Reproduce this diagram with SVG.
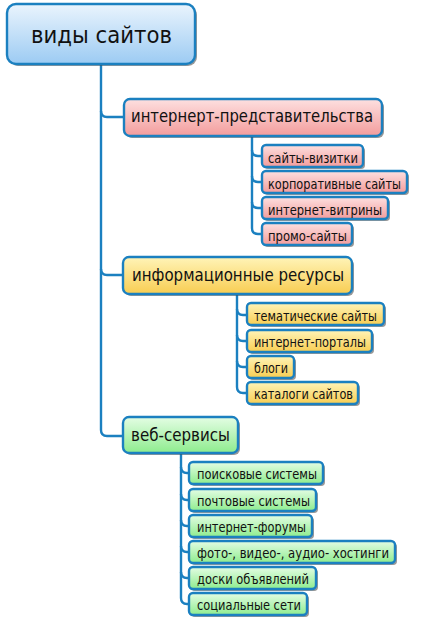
<svg xmlns="http://www.w3.org/2000/svg" width="445" height="619" viewBox="0 0 445 619">
<defs>
<linearGradient id="gBlue" x1="0" y1="0" x2="0" y2="1"><stop offset="0" stop-color="#eaf4fd"/><stop offset="1" stop-color="#9ccbf3"/></linearGradient>
<linearGradient id="gPink" x1="0" y1="0" x2="0" y2="1"><stop offset="0" stop-color="#fde0e0"/><stop offset="1" stop-color="#f39c9c"/></linearGradient>
<linearGradient id="gYellow" x1="0" y1="0" x2="0" y2="1"><stop offset="0" stop-color="#fff4b8"/><stop offset="1" stop-color="#f8cd52"/></linearGradient>
<linearGradient id="gGreen" x1="0" y1="0" x2="0" y2="1"><stop offset="0" stop-color="#e4fde4"/><stop offset="1" stop-color="#8eec8e"/></linearGradient>
</defs>
<style>
.sh{fill:#444;opacity:0.55}
.b{stroke:#1b80c0;stroke-width:2.4}
.root{fill:url(#gBlue)}
.pink{fill:url(#gPink)}
.yel{fill:url(#gYellow)}
.grn{fill:url(#gGreen)}
text{font-family:"DejaVu Sans Condensed","DejaVu Sans","Verdana",sans-serif;font-stretch:condensed;fill:#111}
.t1{font-size:23px}
.t2{font-size:18px}
.t3{font-size:13.5px}
.c{fill:none;stroke:#1b80c0;stroke-width:2.4}
</style>
<rect width="445" height="619" fill="#ffffff"/>
<g id="connectors">
<path class="c" d="M101,64 V430 Q101,436 107,436 H123"/>
<path class="c" d="M101,111 Q101,117 107,117 H124"/>
<path class="c" d="M101,269 Q101,275 107,275 H123"/>
<path class="c" d="M252,136 V228 Q252,234 258,234 H262"/>
<path class="c" d="M252,150 Q252,156 258,156 H262"/>
<path class="c" d="M252,176 Q252,182 258,182 H262"/>
<path class="c" d="M252,202 Q252,208 258,208 H262"/>
<path class="c" d="M237,294 V387 Q237,393 243,393 H247"/>
<path class="c" d="M237,309 Q237,315 243,315 H247"/>
<path class="c" d="M237,335 Q237,341 243,341 H247"/>
<path class="c" d="M237,361 Q237,367 243,367 H247"/>
<path class="c" d="M181,453 V598 Q181,604 187,604 H189"/>
<path class="c" d="M181,467 Q181,473 187,473 H189"/>
<path class="c" d="M181,494 Q181,500 187,500 H189"/>
<path class="c" d="M181,520 Q181,526 187,526 H189"/>
<path class="c" d="M181,546 Q181,552 187,552 H189"/>
<path class="c" d="M181,572 Q181,578 187,578 H189"/>
</g>
<g id="root">
<rect class="sh" x="9" y="6" width="188" height="60" rx="9"/>
<rect class="root b" x="7" y="4" width="188" height="60" rx="9"/>
<text class="t1" x="31" y="43" textLength="141" lengthAdjust="spacingAndGlyphs">виды сайтов</text>
</g>
<g id="n1">
<rect class="sh" x="126" y="101" width="258" height="37" rx="6"/>
<rect class="pink b" x="124" y="99" width="258" height="37" rx="6"/>
<text class="t2" x="131" y="122" textLength="242" lengthAdjust="spacingAndGlyphs">интернерт-представительства</text>
</g>
<g id="n1a"><rect class="sh" x="264" y="147" width="101" height="22" rx="4"/><rect class="pink b" x="262" y="145" width="101" height="22" rx="4"/><text class="t3" x="268" y="162.5" textLength="90" lengthAdjust="spacingAndGlyphs">сайты-визитки</text></g>
<g id="n1b"><rect class="sh" x="264" y="173" width="145" height="22" rx="4"/><rect class="pink b" x="262" y="171" width="145" height="22" rx="4"/><text class="t3" x="268" y="188.5" textLength="133" lengthAdjust="spacingAndGlyphs">корпоративные сайты</text></g>
<g id="n1c"><rect class="sh" x="264" y="199" width="126" height="22" rx="4"/><rect class="pink b" x="262" y="197" width="126" height="22" rx="4"/><text class="t3" x="268" y="214.5" textLength="114" lengthAdjust="spacingAndGlyphs">интернет-витрины</text></g>
<g id="n1d"><rect class="sh" x="264" y="225" width="90" height="22" rx="4"/><rect class="pink b" x="262" y="223" width="90" height="22" rx="4"/><text class="t3" x="268" y="240.5" textLength="79" lengthAdjust="spacingAndGlyphs">промо-сайты</text></g>
<g id="n2">
<rect class="sh" x="125" y="259" width="229" height="37" rx="6"/>
<rect class="yel b" x="123" y="257" width="229" height="37" rx="6"/>
<text class="t2" x="132" y="280.5" textLength="212" lengthAdjust="spacingAndGlyphs">информационные ресурсы</text>
</g>
<g id="n2a"><rect class="sh" x="249" y="305" width="137" height="22" rx="4"/><rect class="yel b" x="247" y="303" width="137" height="22" rx="4"/><text class="t3" x="254" y="320.5" textLength="123" lengthAdjust="spacingAndGlyphs">тематические сайты</text></g>
<g id="n2b"><rect class="sh" x="249" y="332" width="125" height="22" rx="4"/><rect class="yel b" x="247" y="330" width="125" height="22" rx="4"/><text class="t3" x="254" y="347" textLength="112" lengthAdjust="spacingAndGlyphs">интернет-порталы</text></g>
<g id="n2c"><rect class="sh" x="249" y="358" width="47" height="22" rx="4"/><rect class="yel b" x="247" y="356" width="47" height="22" rx="4"/><text class="t3" x="254" y="373" textLength="34" lengthAdjust="spacingAndGlyphs">блоги</text></g>
<g id="n2d"><rect class="sh" x="249" y="384" width="111" height="22" rx="4"/><rect class="yel b" x="247" y="382" width="111" height="22" rx="4"/><text class="t3" x="254" y="399" textLength="99" lengthAdjust="spacingAndGlyphs">каталоги сайтов</text></g>
<g id="n3">
<rect class="sh" x="125" y="419" width="115" height="36" rx="6"/>
<rect class="grn b" x="123" y="417" width="115" height="36" rx="6"/>
<text class="t2" x="131" y="440.5" textLength="99" lengthAdjust="spacingAndGlyphs">веб-сервисы</text>
</g>
<g id="n3a"><rect class="sh" x="191" y="464" width="134" height="22" rx="4"/><rect class="grn b" x="189" y="462" width="134" height="22" rx="4"/><text class="t3" x="197" y="479" textLength="120" lengthAdjust="spacingAndGlyphs">поисковые системы</text></g>
<g id="n3b"><rect class="sh" x="191" y="491" width="127" height="22" rx="4"/><rect class="grn b" x="189" y="489" width="127" height="22" rx="4"/><text class="t3" x="197" y="505.5" textLength="113" lengthAdjust="spacingAndGlyphs">почтовые системы</text></g>
<g id="n3c"><rect class="sh" x="191" y="517" width="123" height="22" rx="4"/><rect class="grn b" x="189" y="515" width="123" height="22" rx="4"/><text class="t3" x="197" y="531.5" textLength="109" lengthAdjust="spacingAndGlyphs">интернет-форумы</text></g>
<g id="n3d"><rect class="sh" x="191" y="543" width="206" height="22" rx="4"/><rect class="grn b" x="189" y="541" width="206" height="22" rx="4"/><text class="t3" x="197" y="557.5" textLength="192" lengthAdjust="spacingAndGlyphs">фото-, видео-, аудио- хостинги</text></g>
<g id="n3e"><rect class="sh" x="191" y="569" width="127" height="22" rx="4"/><rect class="grn b" x="189" y="567" width="127" height="22" rx="4"/><text class="t3" x="197" y="583.5" textLength="112" lengthAdjust="spacingAndGlyphs">доски объявлений</text></g>
<g id="n3f"><rect class="sh" x="191" y="595" width="118" height="22" rx="4"/><rect class="grn b" x="189" y="593" width="118" height="22" rx="4"/><text class="t3" x="197" y="609.5" textLength="104" lengthAdjust="spacingAndGlyphs">социальные сети</text></g>
</svg>
